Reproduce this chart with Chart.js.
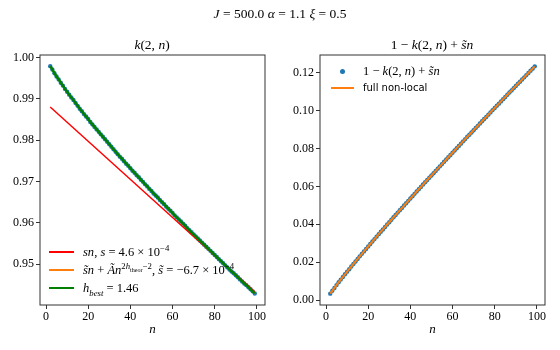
<!DOCTYPE html>
<html>
<head>
<meta charset="utf-8">
<script src="https://cdn.jsdelivr.net/npm/chart.js@4.4.0/dist/chart.umd.min.js"></script>
<style>
  body { margin: 0; background: #fff; }
  #wrap { position: relative; width: 560px; height: 350px; font-family: "Liberation Serif", serif; color: #000; }
  canvas { position: absolute; top: 0; }
  .t { position: absolute; white-space: nowrap; font-size: 13.5px; transform: translate(-50%, -50%); }
  .lg { position: absolute; white-space: nowrap; font-size: 12.5px; line-height: 16px; }
  .sw { position: absolute; height: 2px; }
  sup, sub { font-size: 70%; line-height: 0; }
</style>
</head>
<body>
<div id="wrap">
  <canvas id="left" width="280" height="350" style="left:0"></canvas>
  <canvas id="right" width="280" height="350" style="left:280px"></canvas>

  <div class="t" style="left:280px;top:14px"><i>J</i> = 500.0 <i>α</i> = 1.1 <i>ξ</i> = 0.5</div>
  <div class="t" style="left:152px;top:45px"><i>k</i>(2, <i>n</i>)</div>
  <div class="t" style="left:432px;top:45px">1 − <i>k</i>(2, <i>n</i>) + <i>s̃n</i></div>

  <!-- legend left -->
  <div class="sw" style="left:49px;top:251px;width:25px;background:#ff0000"></div>
  <div class="lg" style="left:83px;top:244px"><i>sn</i>, <i>s</i> = 4.6 × 10<sup>−4</sup></div>
  <div class="sw" style="left:49px;top:269px;width:25px;background:#ff7f0e"></div>
  <div class="lg" style="left:83px;top:262px"><i>s̃n</i> + <i>Ãn</i><sup>2<i>h</i><sub>theor</sub>−2</sup>, <i>s̃</i> = −6.7 × 10<sup>−4</sup></div>
  <div class="sw" style="left:49px;top:287px;width:25px;background:#008000"></div>
  <div class="lg" style="left:83px;top:280px"><i>h</i><sub><i>best</i></sub> = 1.46</div>

  <!-- legend right -->
  <div style="position:absolute;left:340px;top:69px;width:5px;height:5px;border-radius:50%;background:#1f77b4"></div>
  <div class="lg" style="left:363px;top:63px">1 − <i>k</i>(2, <i>n</i>) + <i>s̃n</i></div>
  <div class="sw" style="left:331px;top:87px;width:23px;background:#ff7f0e"></div>
  <div class="lg" style="left:363px;top:80px;font-family:'DejaVu Sans',sans-serif;font-size:10px">full non-local</div>
</div>
<script>
// lag n
const nVals = [
  2, 3, 4, 5, 6, 7, 8, 9, 10, 11,
  12, 13, 14, 15, 16, 17, 18, 19, 20, 21,
  22, 23, 24, 25, 26, 27, 28, 29, 30, 31,
  32, 33, 34, 35, 36, 37, 38, 39, 40, 41,
  42, 43, 44, 45, 46, 47, 48, 49, 50, 51,
  52, 53, 54, 55, 56, 57, 58, 59, 60, 61,
  62, 63, 64, 65, 66, 67, 68, 69, 70, 71,
  72, 73, 74, 75, 76, 77, 78, 79, 80, 81,
  82, 83, 84, 85, 86, 87, 88, 89, 90, 91,
  92, 93, 94, 95, 96, 97, 98, 99
];
// k(2,n)
const kVals = [
  0.9979, 0.9971, 0.9962, 0.9954, 0.9947, 0.9939, 0.9932, 0.9924, 0.9917, 0.9910,
  0.9903, 0.9897, 0.9890, 0.9883, 0.9876, 0.9870, 0.9863, 0.9857, 0.9851, 0.9844,
  0.9838, 0.9832, 0.9826, 0.9820, 0.9814, 0.9808, 0.9802, 0.9796, 0.9790, 0.9784,
  0.9778, 0.9772, 0.9766, 0.9760, 0.9755, 0.9749, 0.9743, 0.9738, 0.9732, 0.9726,
  0.9721, 0.9715, 0.9710, 0.9704, 0.9699, 0.9693, 0.9688, 0.9682, 0.9677, 0.9671,
  0.9666, 0.9661, 0.9655, 0.9650, 0.9645, 0.9639, 0.9634, 0.9629, 0.9624, 0.9618,
  0.9613, 0.9608, 0.9603, 0.9598, 0.9593, 0.9587, 0.9582, 0.9577, 0.9572, 0.9567,
  0.9562, 0.9557, 0.9552, 0.9547, 0.9542, 0.9537, 0.9532, 0.9527, 0.9522, 0.9517,
  0.9512, 0.9507, 0.9502, 0.9497, 0.9492, 0.9487, 0.9482, 0.9478, 0.9473, 0.9468,
  0.9463, 0.9458, 0.9453, 0.9449, 0.9444, 0.9439, 0.9434, 0.9429
];
// 1 - k(2,n) + s~ n
const rVals = [
  0.0034, 0.0049, 0.0064, 0.0079, 0.0094, 0.0108, 0.0122, 0.0136, 0.0150, 0.0163,
  0.0177, 0.0191, 0.0204, 0.0217, 0.0231, 0.0244, 0.0257, 0.0270, 0.0283, 0.0296,
  0.0309, 0.0322, 0.0335, 0.0348, 0.0361, 0.0373, 0.0386, 0.0399, 0.0411, 0.0424,
  0.0437, 0.0449, 0.0462, 0.0474, 0.0486, 0.0499, 0.0511, 0.0524, 0.0536, 0.0548,
  0.0561, 0.0573, 0.0585, 0.0597, 0.0610, 0.0622, 0.0634, 0.0646, 0.0658, 0.0670,
  0.0682, 0.0694, 0.0706, 0.0718, 0.0730, 0.0742, 0.0754, 0.0766, 0.0778, 0.0790,
  0.0802, 0.0814, 0.0826, 0.0838, 0.0850, 0.0862, 0.0873, 0.0885, 0.0897, 0.0909,
  0.0920, 0.0932, 0.0944, 0.0956, 0.0967, 0.0979, 0.0991, 0.1003, 0.1014, 0.1026,
  0.1037, 0.1049, 0.1061, 0.1072, 0.1084, 0.1096, 0.1107, 0.1119, 0.1130, 0.1142,
  0.1153, 0.1165, 0.1176, 0.1188, 0.1199, 0.1211, 0.1222, 0.1234
];
// linear fit sn
const redN = [2, 99];
const redK = [0.9880, 0.9433];

const xTicks = [0, 20, 40, 60, 80, 100];
const yTicksLeft = [0.95, 0.96, 0.97, 0.98, 0.99, 1.00];
const yTicksRight = [0.00, 0.02, 0.04, 0.06, 0.08, 0.10, 0.12];

const pts = (xs, ys) => xs.map((x, i) => ({ x: x, y: ys[i] }));

const serif = { family: "Liberation Serif", size: 12 };

const boxPlugin = {
  id: "box",
  afterDraw(chart) {
    const a = chart.chartArea, ctx = chart.ctx;
    ctx.save();
    ctx.strokeStyle = "#333";
    ctx.lineWidth = 1;
    ctx.strokeRect(a.left, a.top, a.right - a.left, a.bottom - a.top);
    ctx.restore();
  },
};

function makeChart(id, datasets, yTicks, yMin, yMax) {
  return new Chart(document.getElementById(id), {
    type: "scatter",
    data: { datasets: datasets },
    options: {
      responsive: false,
      animation: false,
      layout: { padding: { top: 55, right: 15, left: 0, bottom: 0 } },
      plugins: { legend: { display: false }, tooltip: { enabled: false } },
      scales: {
        x: {
          type: "linear",
          min: -2.85,
          max: 103.85,
          afterBuildTicks: (s) => { s.ticks = xTicks.map((v) => ({ value: v })); },
          afterFit: (s) => { s.height = 45; },
          ticks: { font: serif, color: "#000", padding: 1, callback: (v) => String(v) },
          grid: { drawOnChartArea: false, tickLength: 4, color: "#333" },
          border: { display: false },
          title: {
            display: true, text: "n", color: "#000",
            font: { family: "Liberation Serif", size: 13, style: "italic" },
            padding: { top: 0, bottom: 13 },
          },
        },
        y: {
          type: "linear",
          min: yMin,
          max: yMax,
          afterBuildTicks: (s) => { s.ticks = yTicks.map((v) => ({ value: v })); },
          afterFit: (s) => { s.width = 40; },
          ticks: { font: serif, color: "#000", padding: 2, callback: (v) => Math.abs(v).toFixed(2) },
          grid: { drawOnChartArea: false, tickLength: 4, color: "#333" },
          border: { display: false },
        },
      },
    },
    plugins: [boxPlugin],
  });
}

makeChart("left", [
  { data: pts(nVals, kVals), showLine: false, pointRadius: 2.2, pointBorderWidth: 0,
    backgroundColor: "#1f77b4", order: 3 },
  { data: pts(redN, redK), showLine: true, pointRadius: 0, borderColor: "#ff0000",
    borderWidth: 1.5, order: 2 },
  { data: pts(nVals, kVals), showLine: true, pointRadius: 0, borderColor: "#ff7f0e",
    borderWidth: 1.5, order: 1 },
  { data: pts(nVals, kVals), showLine: true, pointRadius: 0, borderColor: "#008000",
    borderWidth: 2.5, order: 0 },
], yTicksLeft, 0.9401, 1.0006);

makeChart("right", [
  { data: pts(nVals, rVals), showLine: false, pointRadius: 2.2, pointBorderWidth: 0,
    backgroundColor: "#1f77b4", order: 1 },
  { data: pts(nVals, rVals), showLine: true, pointRadius: 0, borderColor: "#ff7f0e",
    borderWidth: 2, order: 0 },
], yTicksRight, -0.0026, 0.1294);
</script>
</body>
</html>
